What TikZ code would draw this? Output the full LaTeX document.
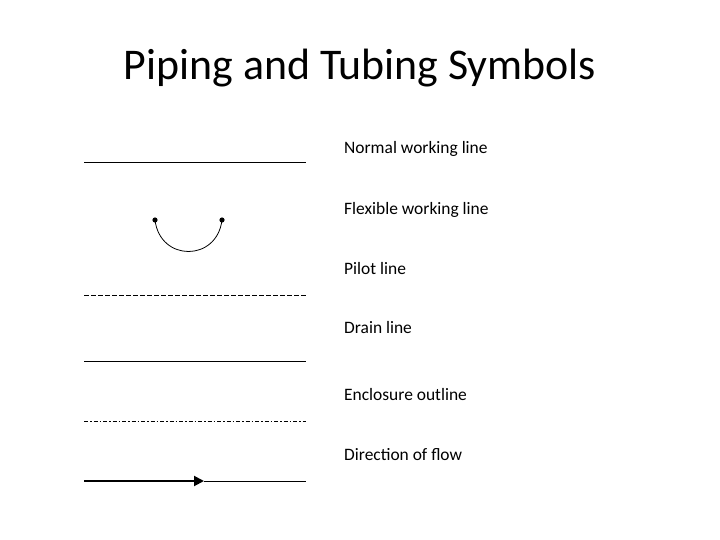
\documentclass[tikz,border=0pt]{standalone}
\usepackage{fontspec}
\setmainfont{Carlito}
\usetikzlibrary{arrows.meta}
\begin{document}
\begin{tikzpicture}[x=1bp,y=-1bp,
  lbl/.style={anchor=west,inner sep=0,font=\fontsize{17.5}{20}\selectfont},
  ln/.style={line width=0.8pt}]
\useasboundingbox (0,0) rectangle (720,540);
\node[font=\fontsize{44}{50}\selectfont,inner sep=0] (title) at (360,68) {Piping and Tubing Symbols};
\node[lbl] (l1) at (344,149) {Normal working line};
\node[lbl] (l2) at (344,210) {Flexible working line};
\node[lbl] (l3) at (344,269) {Pilot line};
\node[lbl] (l4) at (344,328) {Drain line};
\node[lbl] (l5) at (344,395) {Enclosure outline};
\node[lbl] (l6) at (344,455) {Direction of flow};
\coordinate (a1) at (84,162); \coordinate (b1) at (306,162);
\draw[ln] (a1) -- (b1);
\coordinate (p) at (155,220); \coordinate (q) at (222,220);
\fill (p) circle (2.6); \fill (q) circle (2.6);
\draw[ln] (p) .. controls (160,262) and (217,262) .. (q);
\coordinate (a3) at (84,295); \coordinate (b3) at (306,295);
\draw[ln,dash pattern=on 4.5bp off 2.5bp] (a3) -- (b3);
\coordinate (a4) at (84,361); \coordinate (b4) at (306,361);
\draw[ln] (a4) -- (b4);
\coordinate (a5) at (84,421); \coordinate (b5) at (306,421);
\draw[ln,dash pattern=on 4bp off 2bp on 1.5bp off 2bp] (a5) -- (b5);
\coordinate (a6) at (84,481); \coordinate (m6) at (204,481); \coordinate (b6) at (306,481);
\draw[line width=2pt,-{Triangle[length=10bp,width=10bp]}] (a6) -- (m6);
\draw[ln] (m6) -- (b6);
\end{tikzpicture}
\end{document}
